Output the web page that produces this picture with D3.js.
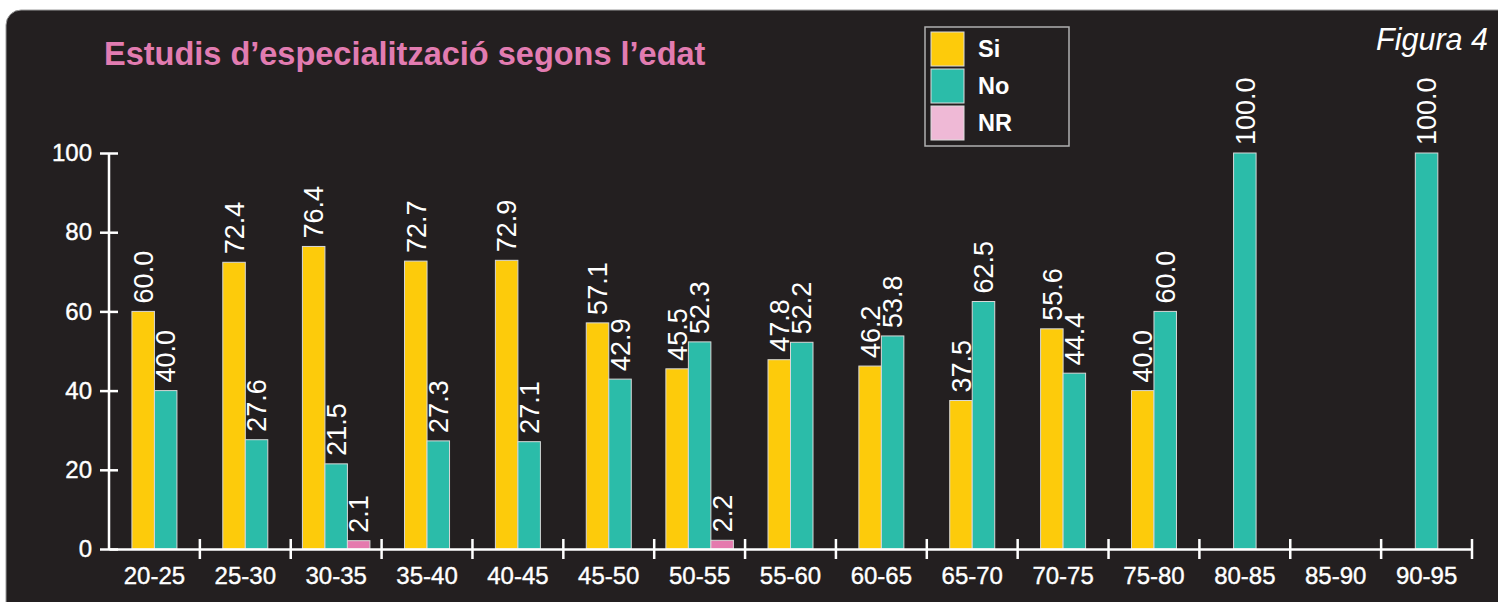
<!DOCTYPE html>
<html>
<head>
<meta charset="utf-8">
<script src="https://cdn.jsdelivr.net/npm/d3@7"></script>
<style>
  html, body { margin: 0; padding: 0; background: #fff; }
  svg { display: block; font-family: "Liberation Sans", Arial, Helvetica, sans-serif; }
</style>
</head>
<body>
<div id="chart"></div>
<script>
// age groups and % per answer (null = no bar)
const ages = ['20-25','25-30','30-35','35-40','40-45','45-50','50-55','55-60','60-65','65-70','70-75','75-80','80-85','85-90','90-95'];
const si = [60.0, 72.4, 76.4, 72.7, 72.9, 57.1, 45.5, 47.8, 46.2, 37.5, 55.6, 40.0, null, null, null];
const no = [40.0, 27.6, 21.5, 27.3, 27.1, 42.9, 52.3, 52.2, 53.8, 62.5, 44.4, 60.0, 100.0, null, 100.0];
const nr = [null, null, 2.1, null, null, null, 2.2, null, null, null, null, null, null, null, null];
const yTicks = [0, 20, 40, 60, 80, 100];

const series = [
  {name: 'Si', values: si, color: '#fdcb0b', swatch: '#fdcb0b'},
  {name: 'No', values: no, color: '#2bbca9', swatch: '#2bbca9'},
  {name: 'NR', values: nr, color: '#e57aae', swatch: '#efb9d6'}
];

const totalW = 1498, totalH = 602;
const svg = d3.select('#chart').append('svg')
  .attr('width', totalW)
  .attr('height', totalH);

// dark panel
svg.append('rect')
  .attr('x', 6).attr('y', 10)
  .attr('width', totalW + 20).attr('height', totalH + 20)
  .attr('rx', 15)
  .attr('fill', '#231f20')
  .attr('stroke', '#9a9a9a')
  .attr('stroke-width', 1);

const x = d3.scaleBand().domain(ages).range([109, 1472]).paddingInner(0).paddingOuter(0);
const y = d3.scaleLinear().domain([0, 100]).range([549, 153]);
const BW = 22.5; // bar width

// title
svg.append('text')
  .text('Estudis d\u2019especialització segons l\u2019edat')
  .attr('x', 104).attr('y', 65)
  .attr('fill', '#e27cb1')
  .attr('font-size', '32.5px')
  .attr('font-weight', 'bold');

svg.append('text')
  .text('Figura 4')
  .attr('x', 1488).attr('y', 50)
  .attr('text-anchor', 'end')
  .attr('fill', '#fff')
  .attr('font-size', '30.5px')
  .attr('font-style', 'italic');

// legend
const lg = svg.append('g').attr('transform', 'translate(925 27)');
lg.append('rect')
  .attr('width', 144).attr('height', 119)
  .attr('fill', 'none')
  .attr('stroke', '#b0b0b0')
  .attr('stroke-width', 1.5);
const li = lg.selectAll('g.item').data(series).enter().append('g')
  .attr('class', 'item')
  .attr('transform', (d, i) => 'translate(6 ' + (5 + i * 37) + ')');
li.append('rect')
  .attr('width', 33).attr('height', 34)
  .attr('fill', d => d.swatch)
  .attr('stroke', '#ddd').attr('stroke-width', 1);
li.append('text')
  .text(d => d.name)
  .attr('x', 47).attr('y', 17)
  .attr('dy', '0.36em')
  .attr('fill', '#fff')
  .attr('font-size', '23.5px')
  .attr('font-weight', 'bold');

// bars
const barData = [];
ages.forEach((a, i) => {
  const present = series.filter(s => s.values[i] != null);
  present.forEach((s, j) => {
    barData.push({age: a, v: s.values[i], color: s.color, off: (j - (present.length - 1) / 2) * BW});
  });
});
const cx = d => x(d.age) + x.bandwidth() / 2 + d.off;

svg.append('g').selectAll('rect').data(barData).enter().append('rect')
  .attr('x', d => cx(d) - BW / 2)
  .attr('y', d => y(d.v))
  .attr('width', BW)
  .attr('height', d => y(0) - y(d.v))
  .attr('fill', d => d.color)
  .attr('stroke', '#d8d8d8')
  .attr('stroke-width', 1);

svg.append('g').selectAll('text').data(barData).enter().append('text')
  .text(d => d.v.toFixed(1))
  .attr('transform', d => 'translate(' + cx(d) + ' ' + (y(d.v) - 8) + ') rotate(-90)')
  .attr('dy', '0.36em')
  .attr('fill', '#fff')
  .attr('font-size', '27px');

// y axis
const yAxis = svg.append('g')
  .attr('transform', 'translate(109 0)')
  .call(d3.axisLeft(y).tickValues(yTicks).tickSize(9).tickPadding(8));
yAxis.select('.domain').attr('stroke', '#fff').attr('stroke-width', 2.5)
  .attr('d', 'M0,' + y(0) + 'V' + y(100));
yAxis.selectAll('.tick line').attr('x1', -9).attr('x2', 9)
  .attr('stroke', '#fff').attr('stroke-width', 2.5);
yAxis.selectAll('.tick text')
  .attr('fill', '#fff')
  .attr('font-size', '24px')
  .attr('font-family', '"Liberation Sans", Arial, sans-serif')
  .attr('stroke', '#fff').attr('stroke-width', 0.4);

// x axis
const xAxis = svg.append('g')
  .attr('transform', 'translate(0 ' + y(0) + ')')
  .call(d3.axisBottom(x).tickSize(0).tickPadding(18));
xAxis.select('.domain').attr('stroke', '#fff').attr('stroke-width', 2.5);
xAxis.selectAll('.tick text')
  .attr('fill', '#fff')
  .attr('font-size', '24px')
  .attr('font-family', '"Liberation Sans", Arial, sans-serif')
  .attr('stroke', '#fff').attr('stroke-width', 0.4);
const bounds = ages.slice(1).map(a => x(a)).concat([x.range()[1]]);
xAxis.selectAll('line.sep').data(bounds).enter().append('line')
  .attr('class', 'sep')
  .attr('x1', d => d).attr('x2', d => d)
  .attr('y1', -10).attr('y2', 10)
  .attr('stroke', '#fff').attr('stroke-width', 2.5);
</script>
</body>
</html>
